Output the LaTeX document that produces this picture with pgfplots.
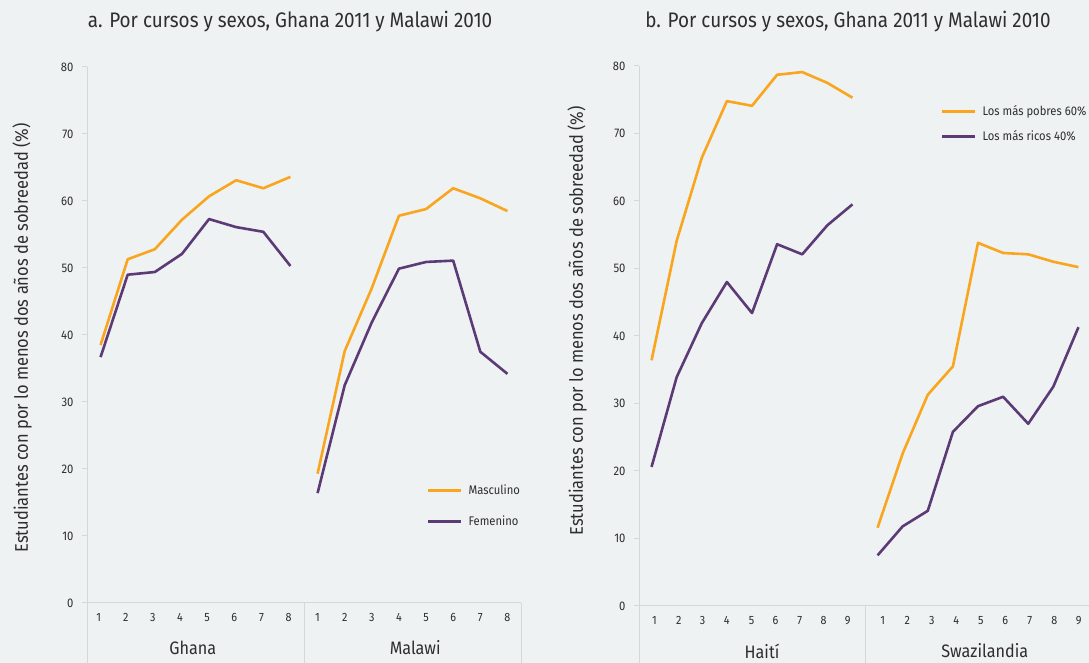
\documentclass[border=0pt]{standalone}
\usepackage{fontspec}
\setmainfont{Fira Sans}[FakeStretch=0.9]
\usepackage{pgfplots}
\pgfplotsset{compat=1.18}

\definecolor{bg}{HTML}{EEF2F3}
\definecolor{axisgray}{HTML}{D5D8D9}
\definecolor{textgray}{HTML}{2E2E2E}
\definecolor{naranja}{HTML}{F9A51D}
\definecolor{morado}{HTML}{5C3A76}

\tikzset{grouplabel/.style={font=\fontsize{18}{20}\selectfont, text=textgray}}

\pgfplotsset{
  panel/.style={
    scale only axis,
    clip=false,
    ymin=0, ymax=80,
    ytick={0,10,...,80},
    axis x line=bottom, axis y line=left,
    axis line style={draw=axisgray, line width=1pt, -},
    y tick style={draw=axisgray, line width=1pt},
    x tick style={draw=none},
    major tick length=5pt,
    tick align=outside,
    /pgf/number format/assume math mode=true,
    yticklabel style={font=\fontsize{12.5}{12}\selectfont, text=textgray, xshift=-5pt},
    xticklabel style={font=\fontsize{12}{12}\selectfont, text=textgray, yshift=-2pt},
    every axis plot/.append style={line width=2.6pt, line join=round, no markers},
    legend cell align=left,
    legend image code/.code={\draw[##1, line width=3pt] (0pt,0pt) -- (33pt,0pt);},
    legend style={draw=none, fill=none, anchor=north west,
      font=\fontsize{12.5}{12}\selectfont, text=textgray,
      nodes={inner xsep=6pt}},
  },
}

\begin{document}
\begin{tikzpicture}[x=1pt, y=1pt]
\fill[bg] (0,0) rectangle (1089,663);
\useasboundingbox (0,0) rectangle (1089,663);

% panel a
\node[font=\fontsize{21}{23}\selectfont, text=textgray] at (290,641) {a. Por cursos y sexos, Ghana 2011 y Malawi 2010};
\node[rotate=90, font=\fontsize{18.3}{20}\selectfont, text=textgray] at (22,325) {Estudiantes con por lo menos dos años de sobreedad (\%)};

\begin{axis}[panel,
  at={(87pt,60pt)}, anchor=south west,
  width=434pt, height=536pt,
  xmin=0.5, xmax=16.5,
  xtick={0.93,1.93,2.93,3.93,4.93,5.93,6.93,7.93,9,10,11,12,13,14,15,16},
  xticklabels={1,2,3,4,5,6,7,8,1,2,3,4,5,6,7,8},
  legend style={at={(0.775,0.228)}, row sep=16pt},
]
\addplot[naranja] coordinates {
  (1,38.5) (2,51.3) (3,52.8) (4,57.2) (5,60.7) (6,63.1) (7,61.9) (8,63.6)
};
\addlegendentry{Masculino}
\addplot[morado] coordinates {
  (1,36.7) (2,49.0) (3,49.4) (4,52.1) (5,57.3) (6,56.1) (7,55.4) (8,50.3)
};
\addlegendentry{Femenino}
\addplot[naranja, forget plot] coordinates {
  (9,19.3) (10,37.6) (11,47.0) (12,57.8) (13,58.8) (14,61.9) (15,60.4) (16,58.5)
};
\addplot[morado, forget plot] coordinates {
  (9,16.4) (10,32.5) (11,41.9) (12,49.9) (13,50.9) (14,51.1) (15,37.5) (16,34.2)
};
\draw[axisgray, line width=1pt] (axis cs:0.5,0) -- ([yshift=-60pt]axis cs:0.5,0);
\draw[axisgray, line width=1pt] (axis cs:8.5,0) -- ([yshift=-60pt]axis cs:8.5,0);
\draw[axisgray, line width=1pt] (axis cs:16.5,0) -- ([yshift=-60pt]axis cs:16.5,0);
\node[grouplabel] at ([yshift=-45pt]axis cs:4.4,0) {Ghana};
\node[grouplabel] at ([yshift=-45pt]axis cs:12.6,0) {Malawi};
\end{axis}

% panel b
\node[font=\fontsize{21}{23}\selectfont, text=textgray] at (848,641) {b. Por cursos y sexos, Ghana 2011 y Malawi 2010};
\node[rotate=90, font=\fontsize{18.3}{20}\selectfont, text=textgray] at (577,342) {Estudiantes con por lo menos dos años de sobreedad (\%)};

\begin{axis}[panel,
  at={(639pt,57pt)}, anchor=south west,
  width=452pt, height=540pt,
  xmin=0.5, xmax=18.5,
  xtick={1.12,2.08,3.03,3.99,4.98,5.94,6.90,7.85,8.81,10.20,11.18,12.16,13.13,14.11,15.08,16.06,17.04,18.01},
  xticklabels={1,2,3,4,5,6,7,8,9,1,2,3,4,5,6,7,8,9},
  legend style={at={(0.660,0.935)}, row sep=10pt},
]
\addplot[naranja] coordinates {
  (1,36.4) (2,54.1) (3,66.4) (4,74.8) (5,74.1) (6,78.7) (7,79.1) (8,77.5) (9,75.3)
};
\addlegendentry{Los más pobres 60\%}
\addplot[morado] coordinates {
  (1,20.6) (2,33.9) (3,41.9) (4,48.0) (5,43.4) (6,53.6) (7,52.1) (8,56.4) (9,59.5)
};
\addlegendentry{Los más ricos 40\%}
\addplot[naranja, forget plot] coordinates {
  (10,11.6) (11,22.6) (12,31.3) (13,35.5) (14,53.8) (15,52.3) (16,52.1) (17,51.0) (18,50.2)
};
\addplot[morado, forget plot] coordinates {
  (10,7.5) (11,11.8) (12,14.1) (13,25.8) (14,29.6) (15,31.0) (16,27.0) (17,32.5) (18,41.3)
};
\draw[axisgray, line width=1pt] (axis cs:0.5,0) -- ([yshift=-60pt]axis cs:0.5,0);
\draw[axisgray, line width=1pt] (axis cs:9.5,0) -- ([yshift=-60pt]axis cs:9.5,0);
\node[grouplabel] at ([yshift=-45pt]axis cs:5.4,0) {Haití};
\node[grouplabel] at ([yshift=-45pt]axis cs:14.27,0) {Swazilandia};
\end{axis}
\end{tikzpicture}
\end{document}
